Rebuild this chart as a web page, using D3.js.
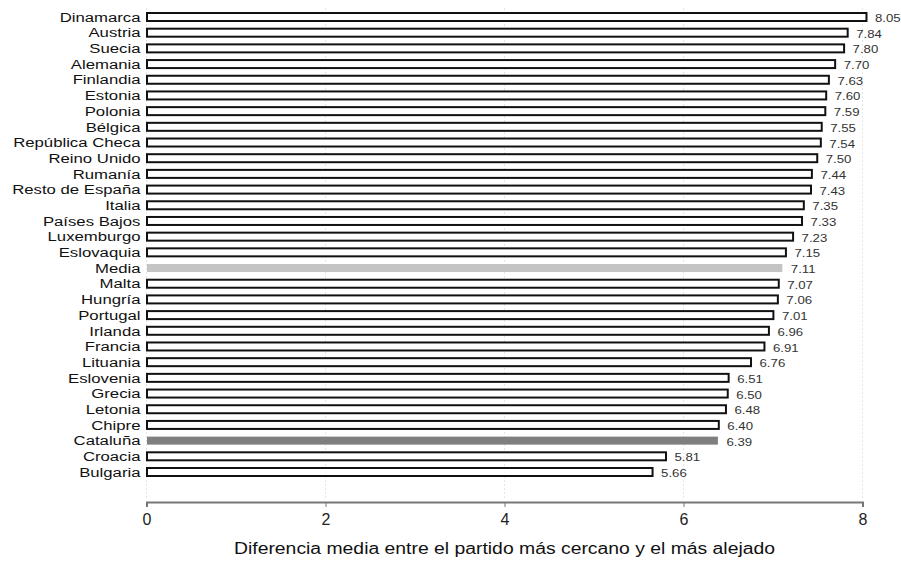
<!DOCTYPE html>
<html><head><meta charset="utf-8">
<script src="https://cdn.jsdelivr.net/npm/d3@7"></script>
<style>body{margin:0;background:#fff}svg{display:block}text{font-family:Arial,"Liberation Sans",sans-serif}</style>
</head><body><svg id="c" width="901" height="563"></svg>
<script>
const categories = ["Dinamarca","Austria","Suecia","Alemania","Finlandia","Estonia","Polonia","Bélgica","República Checa","Reino Unido","Rumanía","Resto de España","Italia","Países Bajos","Luxemburgo","Eslovaquia","Media","Malta","Hungría","Portugal","Irlanda","Francia","Lituania","Eslovenia","Grecia","Letonia","Chipre","Cataluña","Croacia","Bulgaria"];
const values = [8.05,7.84,7.80,7.70,7.63,7.60,7.59,7.55,7.54,7.50,7.44,7.43,7.35,7.33,7.23,7.15,7.11,7.07,7.06,7.01,6.96,6.91,6.76,6.51,6.50,6.48,6.40,6.39,5.81,5.66];
const xTicks = [0,2,4,6,8];
const axisTitle = "Diferencia media entre el partido más cercano y el más alejado";
const highlight = {"Media":"#c4c4c4","Cataluña":"#7f7f7f"};

const svg = d3.select("#c");
const x = d3.scaleLinear().domain([0,8]).range([146.5,862.5]);
const y = d3.scalePoint().domain(categories).range([17,472]);
const bh = 8;

// grid
svg.append("g").selectAll("line").data(xTicks).join("line")
  .attr("x1",d=>x(d)).attr("x2",d=>x(d)).attr("y1",8).attr("y2",500)
  .attr("stroke","#e6e6e6").attr("stroke-width",1).attr("stroke-dasharray","2,2");

const data = categories.map((c,i)=>({c,v:values[i]}));
svg.append("g").selectAll("rect").data(data).join("rect")
  .attr("x",x(0)+0.5).attr("y",d=>y(d.c)-bh/2)
  .attr("width",d=>x(d.v)-x(0)-1).attr("height",bh)
  .attr("fill",d=>highlight[d.c]||"#fff")
  .attr("stroke",d=>highlight[d.c]?"none":"#111").attr("stroke-width",2);

svg.append("g").selectAll("g").data(data).join("g")
  .attr("transform",d=>`translate(${x(0)-6},${y(d.c)}) scale(1.24,1)`)
  .append("text").attr("dy","0.35em")
  .attr("text-anchor","end").attr("font-size",13.5).attr("fill","#111")
  .text(d=>d.c);

svg.append("g").selectAll("g").data(data).join("g")
  .attr("transform",d=>`translate(${x(d.v)+8},${y(d.c)+1}) scale(1.15,1)`)
  .append("text").attr("dy","0.35em")
  .attr("font-size",11.5).attr("fill","#333")
  .text(d=>d.v.toFixed(2));

const ax = svg.append("g").attr("transform","translate(0,502)")
  .call(d3.axisBottom(x).tickValues(xTicks).tickSize(5).tickPadding(7).tickFormat(d3.format("d")));
ax.select(".domain").attr("stroke","#777").attr("stroke-width",2);
ax.selectAll(".tick line").attr("stroke","#777").attr("stroke-width",1);
ax.selectAll(".tick text").attr("font-size",16).attr("fill","#222").attr("font-family","Arial, Liberation Sans, sans-serif");

svg.append("text").attr("x",(x(0)+x(8))/2).attr("y",554).attr("text-anchor","middle")
  .attr("font-size",16).attr("fill","#111").attr("textLength",541).attr("lengthAdjust","spacingAndGlyphs").text(axisTitle);
</script></body></html>
